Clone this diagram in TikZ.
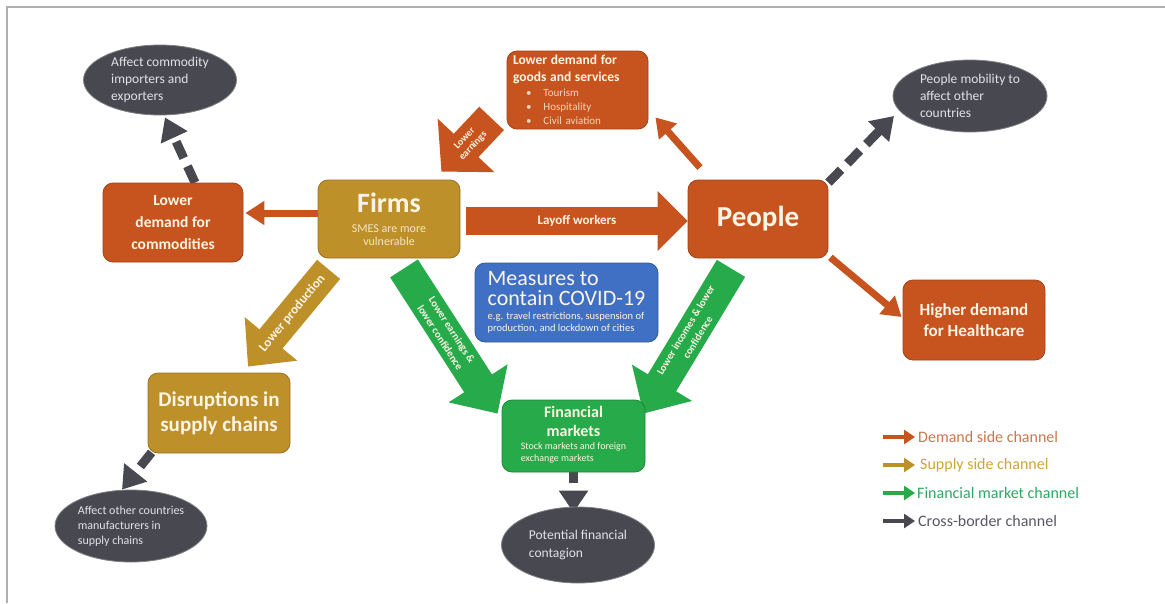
\documentclass[tikz,border=0pt]{standalone}
\usepackage{fontspec}
\setmainfont{Carlito}
\usetikzlibrary{arrows.meta,shapes.geometric,calc,backgrounds}
\definecolor{dorange}{RGB}{199,84,30}
\definecolor{dgold}{RGB}{190,144,42}
\definecolor{dgreen}{RGB}{38,170,74}
\definecolor{dblue}{RGB}{64,112,196}
\definecolor{dgray}{RGB}{72,72,80}
\definecolor{cream}{RGB}{252,244,228}
\definecolor{ltext}{RGB}{226,226,230}
\definecolor{framegray}{RGB}{175,175,175}
\definecolor{legorange}{RGB}{205,118,78}
\definecolor{leggold}{RGB}{205,165,60}
\definecolor{leggreen}{RGB}{45,168,100}
\definecolor{leggray}{RGB}{88,88,100}
\newcommand{\myfs}[2]{\fontsize{#1}{#2}\selectfont}
\begin{document}
\begin{tikzpicture}[x=1pt,y=-1pt,
  box/.style={rounded corners=10pt, inner sep=0pt, text=cream, align=center, line width=0.8pt},
  obox/.style={box, fill=dorange, draw=dorange!80!black},
  gbox/.style={box, fill=dgold, draw=dgold!80!black},
  grbox/.style={box, fill=dgreen, draw=dgreen!80!black},
  bbox/.style={box, fill=dblue, draw=dblue!80!black},
  ell/.style={ellipse, fill=dgray, draw=dgray!70!white, line width=0.8pt, inner sep=0pt},
  elltext/.style={text=ltext, align=left, font=\myfs{13.5}{17}},
  gdash/.style={draw=dgray, line width=9pt, dash pattern=on 18pt off 9pt, -{Triangle[length=22pt,width=28pt]}},
  othin/.style={draw=dorange, line width=7pt, -{Triangle[length=19pt,width=23pt]}},
  blocklbl/.style={sloped, text=cream, align=center, inner sep=0pt},
  legtext/.style={anchor=west, inner sep=0pt, font=\myfs{16}{18}},
  legarrow/.style={line width=4.5pt, -{Triangle[length=11pt,width=14pt]}}
]
\useasboundingbox (0,0) rectangle (1165,603);

% boxes
\node[obox, minimum width=140pt, minimum height=79pt, font=\myfs{15.5}{22}\bfseries] (lowdem) at (173,222.5) {Lower\\demand for\\commodities};
\node[gbox, minimum width=142pt, minimum height=78pt, font=\myfs{12}{13}] (firms) at (389,219)
  {{\myfs{28}{30}\bfseries Firms}\\[7pt]{\color{cream!85!dgold}SMES are more}\\{\color{cream!85!dgold}vulnerable}};
\node[obox, minimum width=141pt, minimum height=78pt, text width=129pt, font=\myfs{11}{14}, align=left] (goods) at (577.5,90)
  {{\myfs{13.5}{16.5}\bfseries Lower demand for}\\[3pt]{\myfs{13.5}{16.5}\bfseries goods and services}\\[1pt]
   {\color{cream!80!dorange}\hspace*{13pt}\textbullet\hspace*{12pt}Tourism}\\
   {\color{cream!80!dorange}\hspace*{13pt}\textbullet\hspace*{12pt}Hospitality}\\
   {\color{cream!80!dorange}\hspace*{13pt}\textbullet\hspace*{12pt}Civil aviation}};
\node[obox, minimum width=140pt, minimum height=78pt, font=\myfs{29}{31}\bfseries] (people) at (758,219) {People};
\node[obox, minimum width=142pt, minimum height=80pt, font=\myfs{17}{21}\bfseries] (health) at (974,320) {Higher demand\\for Healthcare};
\node[bbox, minimum width=183pt, minimum height=79pt, font=\myfs{10.5}{12}, align=left] (measures) at (566.5,302.5)
  {{\myfs{22}{25}Measures to}\\[4pt]{\myfs{22}{25}contain COVID-19}\\[2pt]e.g. travel restrictions, suspension of\\production, and lockdown of cities};
\node[grbox, minimum width=143pt, minimum height=72pt, font=\myfs{10}{12.5}] (fin) at (573.5,436)
  {{\myfs{16}{19}\bfseries Financial}\\[6pt]{\myfs{16}{19}\bfseries markets}\\[3pt]%
   \begin{tabular}{@{}l@{}}Stock markets and foreign\\[0pt]exchange markets\end{tabular}};
\node[gbox, minimum width=142pt, minimum height=80pt, font=\myfs{21}{25}\bfseries] (disrupt) at (219,413) {Disruptions in\\supply chains};

% ellipses
\node[ell, minimum width=153pt, minimum height=70pt, label={[elltext]center:Affect commodity\\importers and\\exporters}] (ell1) at (160,80) {};
\node[ell, minimum width=154pt, minimum height=72pt, label={[elltext]center:People mobility to\\affect other\\countries}] (ell2) at (970,96) {};
\node[ell, minimum width=153pt, minimum height=76pt, label={[elltext, font=\myfs{13.5}{18}]center:Potential financial\\contagion}] (ell3) at (578,545) {};
\node[ell, minimum width=152pt, minimum height=72pt, label={[elltext, font=\myfs{12}{15}]center:Affect other countries\\manufacturers in\\supply chains}] (ell4) at (131,526) {};

% legend
\node[legtext, text=legorange] (leg1) at (918,437) {Demand side channel};
\node[legtext, text=leggold] (leg2) at (920,465) {Supply side channel};
\node[legtext, text=leggreen] (leg3) at (917,493) {Financial market channel};
\node[legtext, text=leggray] (leg4) at (918,521) {Cross-border channel};
\draw[legarrow, draw=dorange] ($(leg1.west)+(-35,0)$) -- ($(leg1.west)+(-3,0)$);
\draw[legarrow, draw=dgold] ($(leg2.west)+(-37,0)$) -- ($(leg2.west)+(-5,0)$);
\draw[legarrow, draw=dgreen] ($(leg3.west)+(-34,0)$) -- ($(leg3.west)+(-2,0)$);
\draw[legarrow, draw=dgray] ($(leg4.west)+(-35,0)$) -- ($(leg4.west)+(-3,0)$);

\begin{scope}[on background layer]
\fill[white] (0,0) rectangle (1165,603);
\draw[framegray, line width=1.5pt] (7,603) -- (7,7) -- (1165,7);
% cross-border dashed arrows
\draw[gdash] ($(lowdem.north)+(22,0)$) -- ($(ell1.south)+(5,2)$);
\draw[gdash] ($(people.north east)+(0,3)$) -- ($(ell2.center)+(-76,20)$);
\draw[gdash, dash pattern=on 11pt off 8pt] (fin.south) -- ($(fin.south |- ell3.north)+(0,6)$);
\draw[gdash] ($(disrupt.south west)+(4,-1)$) -- ($(ell4.north)+(-9,0)$);
% demand side thin arrows
\draw[othin] ($(firms.west)+(0,-6)$) -- ($(lowdem.east)+(2,-9.5)$);
\draw[othin] ($(people.north)+(-58,-12)$) -- ($(goods.south east)+(7,-12)$);
\draw[othin] ($(people.south east)+(2,-1)$) -- ($(health.west)+(-1,-3)$);
% block arrows
\draw[draw=dorange, line width=34pt, -{Triangle[length=36pt,width=76pt]}]
  ($(goods.south west)+(-15,-11)$) -- ($(firms.north east)+(-19,-8)$)
  node[blocklbl, pos=0.45, font=\myfs{10}{11.5}\bfseries] {Lower\\earnings};
\draw[draw=dorange, line width=28pt, -{Triangle[length=30pt,width=58pt]}]
  ($(firms.east)+(6,2)$) -- ($(people.west)+(0,2)$)
  node[blocklbl, pos=0.5, font=\myfs{13}{15}\bfseries] {Layoff workers};
\draw[draw=dgold, line width=30pt, -{Triangle[length=36pt,width=66pt]}]
  ($(firms.south west)+(11,11)$) -- ($(disrupt.north)+(29,-6)$)
  node[blocklbl, pos=0.45, font=\myfs{13}{15}\bfseries] {Lower production};
\draw[draw=dgreen, line width=33pt, -{Triangle[length=36pt,width=68pt]}]
  ($(firms.south)+(15,10)$) -- ($(fin.north west)+(-4,14)$)
  node[blocklbl, pos=0.45, font=\myfs{10.5}{14}\bfseries] {Lower earnings \&\\lower confidence};
\draw[draw=dgreen, line width=33pt, -{Triangle[length=36pt,width=68pt]}]
  ($(people.south)+(-27,10)$) -- ($(fin.north east)+(-2,14)$)
  node[blocklbl, pos=0.45, font=\myfs{10.5}{14}\bfseries] {Lower incomes \& lower\\confidence};
\end{scope}
\end{tikzpicture}
\end{document}
